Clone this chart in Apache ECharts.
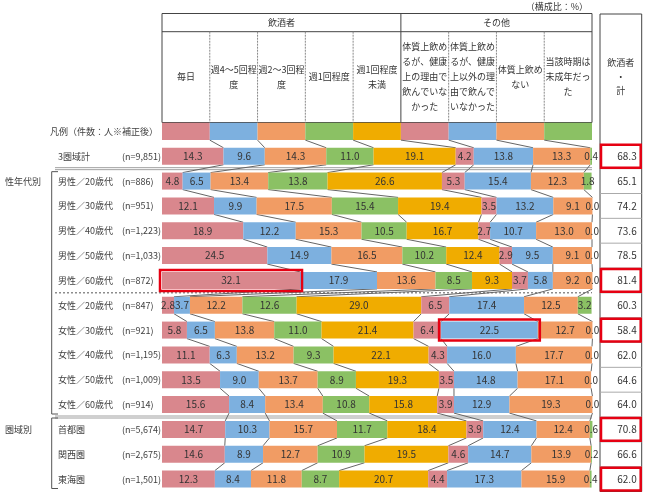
<!DOCTYPE html>
<html>
<head>
<meta charset="UTF-8" />
<title></title>
<style type="text/css">
  * { margin: 0; padding: 0; }
  #main { width: 650px; height: 498px; background-color: #fff; }
</style>
</head>
<body>
<div id="main"></div>
<script src="https://cdn.jsdelivr.net/npm/echarts@6/dist/echarts.min.js"></script>
<script type="text/javascript">
  // 行ラベル
  var legendLabel = '凡例（件数：人※補正後）'
  var categories = ['3圏域計', '男性／20歳代', '男性／30歳代', '男性／40歳代', '男性／50歳代', '男性／60歳代',
    '女性／20歳代', '女性／30歳代', '女性／40歳代', '女性／50歳代', '女性／60歳代', '首都圏', '関西圏', '東海圏']
  var sampleSizes = ['(n=9,851)', '(n=886)', '(n=951)', '(n=1,223)', '(n=1,033)', '(n=872)',
    '(n=847)', '(n=921)', '(n=1,195)', '(n=1,009)', '(n=914)', '(n=5,674)', '(n=2,675)', '(n=1,501)']
  var columnNames = ['毎日', '週4～5回程\n度', '週2～3回程\n度', '週1回程度', '週1回程度\n未満',
    '体質上飲め\nるが、健康\n上の理由で\n飲んでいな\nかった', '体質上飲め\nるが、健康\n上以外の理\n由で飲んで\nいなかった',
    '体質上飲め\nない', '当該時期は\n未成年だっ\nた']

  // 構成比（%）
  var daily = [14.3, 4.8, 12.1, 18.9, 24.5, 32.1, 2.8, 5.8, 11.1, 13.5, 15.6, 14.7, 14.6, 12.3]
  var week45 = [9.6, 6.5, 9.9, 12.2, 14.9, 17.9, 3.7, 6.5, 6.3, 9.0, 8.4, 10.3, 8.9, 8.4]
  var week23 = [14.3, 13.4, 17.5, 15.3, 16.5, 13.6, 12.2, 13.8, 13.2, 13.7, 13.4, 15.7, 12.7, 11.8]
  var week1 = [11.0, 13.8, 15.4, 10.5, 10.2, 8.5, 12.6, 11.0, 9.3, 8.9, 10.8, 11.7, 10.9, 8.7]
  var lessWeek1 = [19.1, 26.6, 19.4, 16.7, 12.4, 9.3, 29.0, 21.4, 22.1, 19.3, 15.8, 18.4, 19.5, 20.7]
  var healthReason = [4.2, 5.3, 3.5, 2.7, 2.9, 3.7, 6.5, 6.4, 4.3, 3.5, 3.9, 3.9, 4.6, 4.4]
  var otherReason = [13.8, 15.4, 13.2, 10.7, 9.5, 5.8, 17.4, 22.5, 16.0, 14.8, 12.9, 12.4, 14.7, 17.3]
  var cannotDrink = [13.3, 12.3, 9.1, 13.0, 9.1, 9.2, 12.5, 12.7, 17.7, 17.1, 19.3, 12.4, 13.9, 15.9]
  var underage = [0.4, 1.8, 0.0, 0.0, 0.0, 0.0, 3.2, 0.0, 0.0, 0.0, 0.0, 0.6, 0.2, 0.4]
  var drinkerTotal = [68.3, 65.1, 74.2, 73.6, 78.5, 81.4, 60.3, 58.4, 62.0, 64.6, 64.0, 70.8, 66.6, 62.0]

  // 赤枠
  var highlightCells = [{ row: '男性／60歳代', col: 0 }, { row: '女性／30歳代', col: 6 }]
  var highlightTotals = ['3圏域計', '男性／60歳代', '女性／30歳代', '首都圏', '東海圏']

  var seriesValues = [daily, week45, week23, week1, lessWeek1, healthReason, otherReason, cannotDrink, underage]
  var colors = ['#d9878d', '#7db0df', '#f19c64', '#8bc164', '#f0ac00', '#d9878d', '#7db0df', '#f19c64', '#8bc164']
  var font = "'Noto Sans CJK JP', sans-serif"

  var GL = 162, GR = 592, GTOP = 119, GBOT = 491.5
  var BAR_H = 17, LEG_H = 17.4
  var colW = (GR - GL) / 9
  var yCats = [legendLabel].concat(categories)
  var nLabels = [''].concat(sampleSizes)

  // 各行の累積
  var cumRows = categories.map(function (c, i) {
    var s = 0
    return seriesValues.map(function (arr) { s += arr[i]; return s })
  })
  var colBounds = columnNames.map(function (c, k) { return (k + 1) * 100 / 9 })

  function renderLinks(params, api) {
    var r = params.dataIndex
    var children = []
    var yc = api.coord([0, r])[1]
    if (r === 0) {
      for (var k = 0; k < 9; k++) {
        var xa = api.coord([k * 100 / 9, 0])[0]
        var xb = api.coord([(k + 1) * 100 / 9, 0])[0]
        children.push({ type: 'rect', shape: { x: xa, y: yc - LEG_H / 2, width: xb - xa, height: LEG_H }, style: { fill: colors[k] } })
      }
    }
    var upper = r === 0 ? colBounds : cumRows[r - 1]
    var lower = cumRows[r]
    var y1 = yc + (r === 0 ? LEG_H : BAR_H) / 2
    var y2 = api.coord([0, r + 1])[1] - BAR_H / 2
    for (var j = 0; j < 8; j++) {
      children.push({
        type: 'line',
        shape: { x1: api.coord([upper[j], r])[0], y1: y1, x2: api.coord([lower[j], r + 1])[0], y2: y2 },
        style: { stroke: '#666', lineWidth: 1 }
      })
    }
    return { type: 'group', children: children }
  }

  function renderCellBox(params, api) {
    var h = highlightCells[params.dataIndex]
    var r = categories.indexOf(h.row)
    var cum = cumRows[r]
    var x0 = api.coord([h.col === 0 ? 0 : cum[h.col - 1], r + 1])[0]
    var x1 = api.coord([cum[h.col], r + 1])[0]
    var yc = api.coord([0, r + 1])[1]
    return {
      type: 'rect',
      shape: { x: x0 - 2, y: yc - BAR_H / 2 - 2, width: x1 - x0 + 4, height: BAR_H + 4 },
      style: { fill: 'none', stroke: '#e60012', lineWidth: 2.5 }
    }
  }

  function renderTotal(params, api) {
    var i = params.dataIndex
    var p = api.coord([1, i + 1])
    var band = api.size([0, 1])[1]
    var left = api.coord([0, i + 1])[0]
    var children = [{
      type: 'text',
      style: { text: drinkerTotal[i].toFixed(1), x: p[0] - 5, y: p[1], align: 'right', verticalAlign: 'middle', fill: '#333', font: '10px ' + font }
    }]
    if (i < drinkerTotal.length - 1) {
      children.push({ type: 'line', shape: { x1: left, y1: p[1] + band / 2, x2: p[0], y2: p[1] + band / 2 }, style: { stroke: '#aaa', lineWidth: 1 } })
    }
    if (highlightTotals.indexOf(categories[i]) >= 0) {
      children.push({ type: 'rect', shape: { x: left + 1, y: p[1] - band / 2 + 1, width: p[0] - left - 2, height: band - 2 }, style: { fill: 'none', stroke: '#e60012', lineWidth: 2.5 } })
    }
    return { type: 'group', children: children }
  }

  var series = seriesValues.map(function (arr, k) {
    return {
      type: 'bar',
      stack: 'all',
      barWidth: BAR_H,
      clip: false,
      data: ['-'].concat(arr),
      itemStyle: { color: colors[k] },
      label: {
        show: true, position: 'inside', color: '#333', fontSize: 10, fontFamily: font, textBorderWidth: 0,
        formatter: function (p) { return p.value.toFixed(1) }
      },
      labelLayout: { hideOverlap: false },
      emphasis: { disabled: true },
      silent: true
    }
  })
  series.push({
    type: 'custom', renderItem: renderLinks, z: 1, silent: true, clip: false,
    data: yCats.slice(0, -1).map(function (c, r) { return [0, r] }),
    encode: { x: 0, y: 1 }
  })
  series.push({
    type: 'custom', renderItem: renderCellBox, z: 5, silent: true,
    data: highlightCells.map(function (h) { return [0, categories.indexOf(h.row) + 1] }),
    encode: { x: 0, y: 1 }
  })
  series.push({
    type: 'custom', renderItem: renderTotal, xAxisIndex: 1, yAxisIndex: 1, silent: true,
    data: drinkerTotal.map(function (v, i) { return [1, i + 1] }),
    encode: { x: 0, y: 1 }
  })

  var myChart = echarts.init(document.getElementById('main'))
  var option = {
    animation: false,
    backgroundColor: '#fff',
    grid: [
      { left: GL, right: 650 - GR, top: GTOP, bottom: 498 - GBOT },
      { left: 600, right: 8.3, top: GTOP, bottom: 498 - GBOT }
    ],
    xAxis: [
      { type: 'value', min: 0, max: 100, show: false, gridIndex: 0 },
      { type: 'value', min: 0, max: 1, show: false, gridIndex: 1 }
    ],
    yAxis: [
      {
        type: 'category', data: yCats, inverse: true, gridIndex: 0,
        axisLine: { show: false }, axisTick: { show: false }, splitLine: { show: false },
        axisLabel: {
          margin: 4,
          formatter: function (v, i) {
            if (i === 0) return '{lg|' + v + '}'
            return '{a|' + v + '}{b|' + nLabels[i] + '}'
          },
          rich: {
            lg: { fontSize: 9, color: '#404040', fontFamily: font },
            a: { fontSize: 9, color: '#404040', fontFamily: font, width: 64, align: 'left' },
            b: { fontSize: 9, color: '#404040', fontFamily: font, width: 36, align: 'left' }
          }
        }
      },
      { type: 'category', data: yCats, inverse: true, gridIndex: 1, show: false }
    ],
    series: series
  }
  myChart.setOption(option)

  // 表の見出し・区切り線
  function rowY(i) { return myChart.convertToPixel({ yAxisIndex: 0 }, yCats[i]) }
  var band = (GBOT - GTOP) / yCats.length
  var gray = '#404040'
  var g = []
  g.push({ type: 'text', style: { text: '（構成比：%）', x: 588, y: 7, align: 'right', verticalAlign: 'middle', fill: '#333', font: '9px ' + font } })
  g.push({ type: 'rect', shape: { x: GL, y: 13.5, width: GR - GL, height: 109 }, style: { fill: 'none', stroke: '#444', lineWidth: 1 } })
  g.push({ type: 'line', shape: { x1: GL, y1: 31.7, x2: GR, y2: 31.7 }, style: { stroke: '#444', lineWidth: 1 } })
  for (var k = 1; k < 9; k++) {
    var x = GL + k * colW
    if (k === 5) {
      g.push({ type: 'line', shape: { x1: x, y1: 13.5, x2: x, y2: 122.5 }, style: { stroke: '#444', lineWidth: 1 } })
    } else {
      g.push({ type: 'line', shape: { x1: x, y1: 31.7, x2: x, y2: 122.5 }, style: { stroke: '#888', lineWidth: 1, lineDash: [2, 1] } })
    }
  }
  g.push({ type: 'text', style: { text: '飲酒者', x: GL + colW * 2.5, y: 22.6, align: 'center', verticalAlign: 'middle', fill: '#333', font: '9px ' + font } })
  g.push({ type: 'text', style: { text: 'その他', x: GL + colW * 7, y: 22.6, align: 'center', verticalAlign: 'middle', fill: '#333', font: '9px ' + font } })
  columnNames.forEach(function (name, k) {
    g.push({ type: 'text', style: { text: name, x: GL + colW * (k + 0.5), y: 77, align: 'center', verticalAlign: 'middle', lineHeight: 15, fill: '#333', font: '9px ' + font } })
  })
  g.push({ type: 'rect', shape: { x: 600, y: 14, width: 41.7, height: GBOT - 14 }, style: { fill: 'none', stroke: '#444', lineWidth: 1 } })
  g.push({ type: 'text', style: { text: '飲酒者\n・\n計', x: 620.8, y: 77, align: 'center', verticalAlign: 'middle', lineHeight: 14, fill: '#333', font: '9px ' + font } })

  // 区切り線
  var ySep1 = (rowY(1) + rowY(2)) / 2
  var ySep2 = (rowY(6) + rowY(7)) / 2
  var ySep3 = (rowY(11) + rowY(12)) / 2
  g.push({ type: 'line', shape: { x1: 55, y1: ySep1 - 1, x2: GR, y2: ySep1 - 1 }, style: { stroke: '#888', lineWidth: 0.8 } })
  g.push({ type: 'line', shape: { x1: 55, y1: ySep1 + 1, x2: GR, y2: ySep1 + 1 }, style: { stroke: '#888', lineWidth: 0.8 } })
  g.push({ type: 'line', shape: { x1: 55, y1: ySep2, x2: GR, y2: ySep2 }, style: { stroke: '#555', lineWidth: 1, lineDash: [2, 2] } })
  g.push({ type: 'line', shape: { x1: 55, y1: ySep3 - 1, x2: GR, y2: ySep3 - 1 }, style: { stroke: '#888', lineWidth: 0.8 } })
  g.push({ type: 'line', shape: { x1: 55, y1: ySep3 + 1, x2: GR, y2: ySep3 + 1 }, style: { stroke: '#888', lineWidth: 0.8 } })

  // 括弧とグループ名
  function bracket(y0, y1) {
    g.push({ type: 'polyline', shape: { points: [[58, y0], [51.7, y0], [51.7, y1], [58, y1]] }, style: { fill: 'none', stroke: '#555', lineWidth: 1 } })
  }
  bracket(rowY(2) - band / 2 + 3, rowY(11) + band / 2 - 3)
  bracket(rowY(12) - band / 2 + 1, rowY(14) + band / 2 - 3)
  g.push({ type: 'text', style: { text: '性年代別', x: 5, y: rowY(2), align: 'left', verticalAlign: 'middle', fill: gray, font: '9px ' + font } })
  g.push({ type: 'text', style: { text: '圏域別', x: 5, y: rowY(12), align: 'left', verticalAlign: 'middle', fill: gray, font: '9px ' + font } })

  myChart.setOption({ graphic: g })
</script>
</body>
</html>
